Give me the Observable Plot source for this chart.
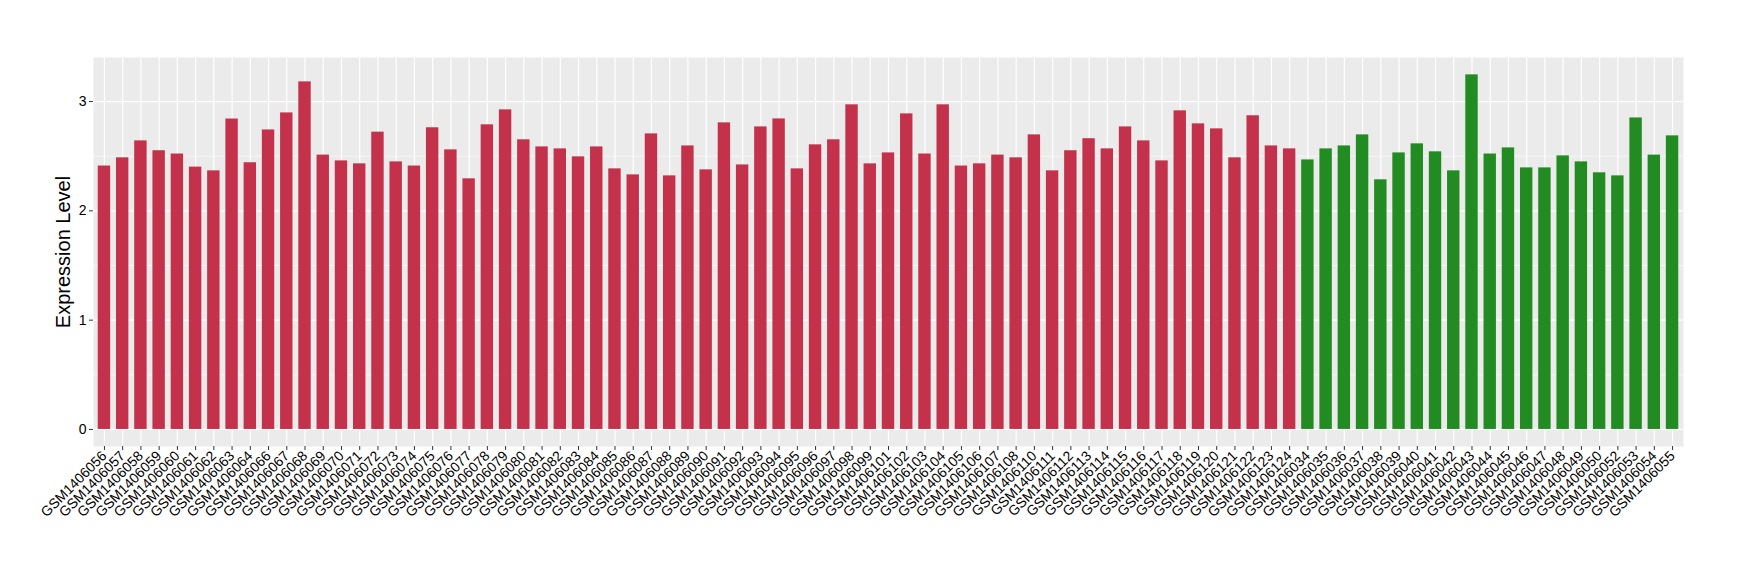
<!DOCTYPE html>
<html>
<head>
<meta charset="utf-8">
<script src="https://cdn.jsdelivr.net/npm/d3@7"></script>
<script src="https://cdn.jsdelivr.net/npm/@observablehq/plot@0.6"></script>
<style>
  html, body { margin: 0; padding: 0; background: #ffffff; }
  #chart svg { display: block; }
</style>
</head>
<body>
<div id="chart"></div>
<script>
// Group 1 (red)
const redSamples = [
  "GSM1406056","GSM1406057","GSM1406058","GSM1406059","GSM1406060","GSM1406061","GSM1406062","GSM1406063","GSM1406064",
  "GSM1406066","GSM1406067","GSM1406068","GSM1406069","GSM1406070","GSM1406071","GSM1406072","GSM1406073","GSM1406074",
  "GSM1406075","GSM1406076","GSM1406077","GSM1406078","GSM1406079","GSM1406080","GSM1406081","GSM1406082","GSM1406083",
  "GSM1406084","GSM1406085","GSM1406086","GSM1406087","GSM1406088","GSM1406089","GSM1406090","GSM1406091","GSM1406092",
  "GSM1406093","GSM1406094","GSM1406095","GSM1406096","GSM1406097","GSM1406098","GSM1406099",
  "GSM1406101","GSM1406102","GSM1406103","GSM1406104","GSM1406105","GSM1406106","GSM1406107","GSM1406108",
  "GSM1406110","GSM1406111","GSM1406112","GSM1406113","GSM1406114","GSM1406115","GSM1406116","GSM1406117","GSM1406118",
  "GSM1406119","GSM1406120","GSM1406121","GSM1406122","GSM1406123","GSM1406124"
];
const redValues = [
  2.41, 2.485, 2.64, 2.55, 2.52, 2.40, 2.366, 2.84, 2.44,
  2.74, 2.896, 3.18, 2.51, 2.457, 2.43, 2.72, 2.448, 2.41,
  2.76, 2.558, 2.293, 2.787, 2.924, 2.65, 2.585, 2.567, 2.494,
  2.585, 2.384, 2.329, 2.704, 2.32, 2.594, 2.375, 2.805, 2.42,
  2.768, 2.841, 2.384, 2.604, 2.65, 2.97, 2.43,
  2.53, 2.887, 2.52, 2.97, 2.41, 2.43, 2.51, 2.485,
  2.695, 2.366, 2.55, 2.66, 2.567, 2.768, 2.64, 2.457, 2.915,
  2.796, 2.75, 2.485, 2.87, 2.594, 2.567
];
// Group 2 (green)
const greenSamples = [
  "GSM1406034","GSM1406035","GSM1406036","GSM1406037","GSM1406038","GSM1406039","GSM1406040","GSM1406041","GSM1406042",
  "GSM1406043","GSM1406044","GSM1406045","GSM1406046","GSM1406047","GSM1406048","GSM1406049","GSM1406050",
  "GSM1406052","GSM1406053","GSM1406054","GSM1406055"
];
const greenValues = [
  2.466, 2.567, 2.594, 2.695, 2.284, 2.53, 2.613, 2.54, 2.366,
  3.244, 2.52, 2.576, 2.393, 2.393, 2.503, 2.448, 2.348,
  2.32, 2.85, 2.51, 2.686
];
const yMajorTicks = [0, 1, 2, 3];
const yMinorTicks = [0.5, 1.5, 2.5];
const yTitle = "Expression Level";
const redColor = "#C3314A";
const greenColor = "#228B22";

const rows = [
  ...redSamples.map((s, i) => ({sample: s, value: redValues[i], group: "red"})),
  ...greenSamples.map((s, i) => ({sample: s, value: greenValues[i], group: "green"}))
];
const order = rows.map(d => d.sample);

const font = "'Liberation Sans', Arial, Helvetica, sans-serif";

const chart = Plot.plot({
  width: 1740,
  height: 580,
  marginLeft: 93,
  marginRight: 57,
  marginTop: 57,
  marginBottom: 134,
  style: {fontFamily: font, fontSize: "14px", background: "#ffffff", color: "#000000"},
  x: {type: "band", domain: order, paddingInner: 0.32, paddingOuter: 0.26, round: false, label: null},
  y: {domain: [-0.156, 3.403], label: null},
  marks: [
    Plot.frame({fill: "#EBEBEB", stroke: null}),
    Plot.ruleY(yMinorTicks, {stroke: "#ffffff", strokeWidth: 0.6}),
    Plot.ruleY(yMajorTicks, {stroke: "#ffffff", strokeWidth: 1.2}),
    Plot.ruleX(order, {stroke: "#ffffff", strokeWidth: 1.2}),
    Plot.barY(rows, {x: "sample", y: "value", fill: d => d.group === "red" ? redColor : greenColor}),
    Plot.axisY({ticks: yMajorTicks, tickFormat: d3.format("d"), tickSize: 4, tickPadding: 3, stroke: "#333333",
                label: yTitle, labelAnchor: "center", labelOffset: 38, labelArrow: "none"}),
    Plot.axisX({tickRotate: -45, tickSize: 4, tickPadding: 3, stroke: "#333333", label: null})
  ]
});
document.getElementById("chart").appendChild(chart);
// enlarge the y-axis title
chart.querySelectorAll("text").forEach(t => {
  if (t.textContent.trim() === yTitle) {
    t.style.fontSize = "20px";
    if (t.parentNode && t.parentNode.tagName === "g") t.parentNode.style.fontSize = "20px";
  }
});
</script>
</body>
</html>
